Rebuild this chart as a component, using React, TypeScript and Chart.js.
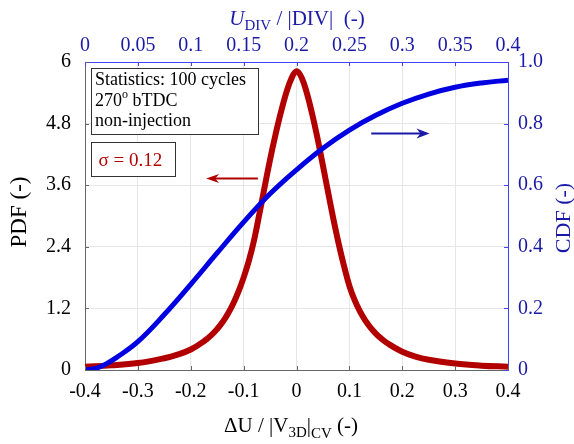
import React, { useEffect, useRef } from "react";
import { Chart, registerables } from "chart.js";

Chart.register(...registerables);

// ---- data ----
const pdfX = [-0.4, -0.35, -0.3, -0.25, -0.225, -0.2, -0.175, -0.16, -0.15, -0.14, -0.13, -0.12, -0.11, -0.1, -0.09, -0.08, -0.07, -0.06, -0.05, -0.04, -0.03, -0.02, -0.01, 0, 0.01, 0.02, 0.03, 0.04, 0.05, 0.06, 0.07, 0.08, 0.09, 0.1, 0.11, 0.12, 0.13, 0.14, 0.15, 0.16, 0.175, 0.2, 0.225, 0.25, 0.3, 0.35, 0.4];
const pdfY = [0.065, 0.09, 0.135, 0.23, 0.3, 0.4, 0.56, 0.69, 0.8, 0.93, 1.09, 1.285, 1.52, 1.8, 2.13, 2.54, 3.05, 3.58, 4.1, 4.57, 5.0, 5.38, 5.67, 5.82, 5.69, 5.38, 4.97, 4.5, 3.98, 3.45, 2.93, 2.45, 2.02, 1.64, 1.36, 1.14, 0.965, 0.825, 0.71, 0.615, 0.5, 0.355, 0.26, 0.2, 0.125, 0.085, 0.065];

const cdfX = [-0.4, -0.38, -0.36, -0.34, -0.3, -0.25, -0.2, -0.15, -0.1, -0.05, 0, 0.05, 0.1, 0.15, 0.2, 0.25, 0.3, 0.35, 0.4];
const cdfY = [0.0, 0.005, 0.02, 0.041, 0.092, 0.18, 0.278, 0.38, 0.48, 0.572, 0.65, 0.72, 0.779, 0.827, 0.866, 0.896, 0.918, 0.932, 0.941];

const bottomTicks = [-0.4, -0.3, -0.2, -0.1, 0, 0.1, 0.2, 0.3, 0.4];
const topTicks = [0, 0.05, 0.1, 0.15, 0.2, 0.25, 0.3, 0.35, 0.4];
const pdfTicks = [0, 1.2, 2.4, 3.6, 4.8, 6];
const cdfTicks = [0, 0.2, 0.4, 0.6, 0.8, 1.0];
const cdfTickLabels = ["0", "0.2", "0.4", "0.6", "0.8", "1.0"];

const statLines = ["Statistics: 100 cycles", "270", "non-injection"];
const sigmaText = "σ = 0.12";

const RED = "#b20000";
const BLUE = "#0000e0";
const NAVY = "#1a1aa6";
const AXBLUE = "#4444ff";
const FONT = "'Liberation Serif', 'Times New Roman', serif";

type Run = { t: string; s: number; dy?: number; it?: boolean };

function drawRuns(ctx: CanvasRenderingContext2D, runs: Run[], cx: number, y: number, color: string) {
  let total = 0;
  const widths = runs.map((r) => {
    ctx.font = `${r.it ? "italic " : ""}${r.s}px ${FONT}`;
    const w = ctx.measureText(r.t).width;
    total += w;
    return w;
  });
  let x = cx - total / 2;
  ctx.fillStyle = color;
  ctx.textBaseline = "alphabetic";
  ctx.textAlign = "left";
  runs.forEach((r, i) => {
    ctx.font = `${r.it ? "italic " : ""}${r.s}px ${FONT}`;
    ctx.fillText(r.t, x, y + (r.dy || 0));
    x += widths[i];
  });
}

function arrow(ctx: CanvasRenderingContext2D, x1: number, x2: number, y: number, color: string, hl: number, hw: number) {
  const dir = x2 > x1 ? 1 : -1;
  ctx.save();
  ctx.strokeStyle = color;
  ctx.fillStyle = color;
  ctx.lineWidth = 2;
  ctx.beginPath();
  ctx.moveTo(x1, y);
  ctx.lineTo(x2 - dir * hl * 0.6, y);
  ctx.stroke();
  ctx.beginPath();
  ctx.moveTo(x2, y);
  ctx.lineTo(x2 - dir * hl, y - hw);
  ctx.lineTo(x2 - dir * hl * 0.7, y);
  ctx.lineTo(x2 - dir * hl, y + hw);
  ctx.closePath();
  ctx.fill();
  ctx.restore();
}

const overlay = {
  id: "overlay",
  afterDraw(chart: any) {
    const { ctx, chartArea: ca, scales } = chart;
    const xs = scales.x;
    const yl = scales.y;
    const yr = scales.y2;
    ctx.save();
    // inward tick marks
    ctx.lineWidth = 1;
    ctx.strokeStyle = "#666";
    bottomTicks.forEach((v) => {
      const px = Math.round(xs.getPixelForValue(v)) + 0.5;
      ctx.beginPath();
      ctx.moveTo(px, ca.bottom);
      ctx.lineTo(px, ca.bottom - 4);
      ctx.stroke();
    });
    pdfTicks.forEach((v) => {
      const py = Math.round(yl.getPixelForValue(v)) + 0.5;
      ctx.beginPath();
      ctx.moveTo(ca.left, py);
      ctx.lineTo(ca.left + 4, py);
      ctx.stroke();
    });
    ctx.strokeStyle = AXBLUE;
    topTicks.forEach((v) => {
      const px = Math.round(scales.x2.getPixelForValue(v)) + 0.5;
      ctx.beginPath();
      ctx.moveTo(px, ca.top);
      ctx.lineTo(px, ca.top + 4);
      ctx.stroke();
    });
    cdfTicks.forEach((v) => {
      const py = Math.round(yr.getPixelForValue(v)) + 0.5;
      ctx.beginPath();
      ctx.moveTo(ca.right, py);
      ctx.lineTo(ca.right - 4, py);
      ctx.stroke();
    });

    // arrows
    arrow(ctx, xs.getPixelForValue(-0.073), xs.getPixelForValue(-0.171), yl.getPixelForValue(3.73), RED, 13, 4.5);
    arrow(ctx, xs.getPixelForValue(0.1413), xs.getPixelForValue(0.2516), yr.getPixelForValue(0.768), NAVY, 13, 5);

    // statistics box
    const bx = ca.left + 6.5;
    const by = ca.top + 6.5;
    ctx.fillStyle = "#ffffff";
    ctx.fillRect(bx, by, 167, 66);
    ctx.strokeStyle = "#333333";
    ctx.lineWidth = 1;
    ctx.strokeRect(bx, by, 167, 66);
    ctx.fillStyle = "#000";
    ctx.textAlign = "left";
    ctx.textBaseline = "alphabetic";
    ctx.font = `18px ${FONT}`;
    ctx.fillText(statLines[0], bx + 3.5, by + 16);
    ctx.fillText(statLines[1], bx + 3.5, by + 37);
    const w270 = ctx.measureText(statLines[1]).width;
    ctx.font = `12px ${FONT}`;
    ctx.fillText("o", bx + 3.5 + w270, by + 29);
    const wo = ctx.measureText("o").width;
    ctx.font = `18px ${FONT}`;
    ctx.fillText(" bTDC", bx + 3.5 + w270 + wo, by + 37);
    ctx.fillText(statLines[2], bx + 3.5, by + 57);

    // sigma box
    const sx = ca.left + 6.5;
    const sy = ca.top + 80.5;
    ctx.fillStyle = "#ffffff";
    ctx.fillRect(sx, sy, 84, 34);
    ctx.strokeStyle = "#333333";
    ctx.strokeRect(sx, sy, 84, 34);
    ctx.fillStyle = RED;
    ctx.font = `19px ${FONT}`;
    ctx.fillText(sigmaText, sx + 7, sy + 23);

    // axis titles
    ctx.save();
    ctx.translate(20, 212);
    ctx.rotate(-Math.PI / 2);
    ctx.font = `23px ${FONT}`;
    ctx.fillStyle = "#000";
    ctx.textAlign = "center";
    ctx.textBaseline = "middle";
    ctx.fillText("PDF (-)", 0, 0);
    ctx.restore();

    ctx.save();
    ctx.translate(564, 218);
    ctx.rotate(-Math.PI / 2);
    ctx.font = `22px ${FONT}`;
    ctx.fillStyle = NAVY;
    ctx.textAlign = "center";
    ctx.textBaseline = "middle";
    ctx.fillText("CDF (-)", 0, 0);
    ctx.restore();

    drawRuns(
      ctx,
      [
        { t: "ΔU / |V", s: 21 },
        { t: "3D", s: 15, dy: 5 },
        { t: "|", s: 21 },
        { t: "CV", s: 15, dy: 6 },
        { t: " (-)", s: 21 },
      ],
      291,
      432,
      "#000"
    );
    drawRuns(
      ctx,
      [
        { t: "U", s: 21, it: true },
        { t: "DIV", s: 15, dy: 5 },
        { t: " / |DIV|  (-)", s: 21 },
      ],
      297,
      25,
      NAVY
    );
    ctx.restore();
  },
};

const fmt = (v: number) => (v === 0 ? "0" : String(+v.toFixed(2)));
const setTicks = (arr: number[]) => (s: any) => {
  s.ticks = arr.map((v) => ({ value: v }));
};

export default function App() {
  const ref = useRef<HTMLCanvasElement | null>(null);
  useEffect(() => {
    if (!ref.current) return;
    const gridCol = "#e6e6e6";
    const chart = new Chart(ref.current, {
      type: "line",
      data: {
        datasets: [
          {
            label: "CDF",
            data: cdfX.map((x, i) => ({ x, y: cdfY[i] })),
            borderColor: BLUE,
            borderWidth: 5,
            pointRadius: 0,
            tension: 0.4,
            yAxisID: "y2",
            xAxisID: "x",
            order: 0,
          },
          {
            label: "PDF",
            data: pdfX.map((x, i) => ({ x, y: pdfY[i] })),
            borderColor: RED,
            borderWidth: 6,
            pointRadius: 0,
            tension: 0.4,
            yAxisID: "y",
            xAxisID: "x",
            order: 1,
          },
        ],
      },
      options: {
        responsive: false,
        animation: false,
        layout: { padding: 0 },
        plugins: { legend: { display: false }, tooltip: { enabled: false } },
        scales: {
          x: {
            type: "linear",
            position: "bottom",
            min: -0.4,
            max: 0.4,
            afterBuildTicks: setTicks(bottomTicks),
            afterFit: (s: any) => {
              s.height = 74;
            },
            grid: {
              color: (c: any) => (c.tick && Math.abs(c.tick.value) > 0.39 ? "rgba(0,0,0,0)" : gridCol),
              drawTicks: false,
            },
            border: { color: "#666", width: 1 },
            ticks: { padding: 10, color: "#000", font: { family: FONT, size: 20 }, callback: (v: any) => fmt(+v), maxRotation: 0, autoSkip: false },
          },
          x2: {
            type: "linear",
            position: "top",
            min: 0,
            max: 0.4,
            afterBuildTicks: setTicks(topTicks),
            afterFit: (s: any) => {
              s.height = 62;
            },
            grid: { display: false, drawTicks: false },
            border: { color: AXBLUE, width: 1 },
            ticks: { padding: 4, color: NAVY, font: { family: FONT, size: 20 }, callback: (v: any) => fmt(+v), maxRotation: 0, autoSkip: false },
          },
          y: {
            type: "linear",
            position: "left",
            min: 0,
            max: 6,
            afterBuildTicks: setTicks(pdfTicks),
            afterFit: (s: any) => {
              s.width = 85;
            },
            grid: {
              color: (c: any) => (c.tick && (c.tick.value === 6 || c.tick.value === 0) ? "rgba(0,0,0,0)" : gridCol),
              drawTicks: false,
            },
            border: { color: "#666", width: 1 },
            ticks: { padding: 14, color: "#000", font: { family: FONT, size: 20 }, callback: (v: any) => fmt(+v), autoSkip: false },
          },
          y2: {
            type: "linear",
            position: "right",
            min: 0,
            max: 1,
            afterBuildTicks: setTicks(cdfTicks),
            afterFit: (s: any) => {
              s.width = 66;
            },
            grid: { display: false, drawTicks: false },
            border: { color: AXBLUE, width: 1 },
            ticks: {
              padding: 10,
              color: NAVY,
              font: { family: FONT, size: 20 },
              callback: (v: any) => cdfTickLabels[cdfTicks.findIndex((t) => Math.abs(t - +v) < 1e-6)] ?? fmt(+v),
              autoSkip: false,
            },
          },
        },
      },
      plugins: [overlay],
    } as any);
    return () => chart.destroy();
  }, []);
  return (
    <div style={{ position: "fixed", left: 0, top: 0, width: 574, height: 444, background: "#fff" }}>
      <canvas ref={ref} width={574} height={444} style={{ display: "block", width: 574, height: 444 }} />
    </div>
  );
}
